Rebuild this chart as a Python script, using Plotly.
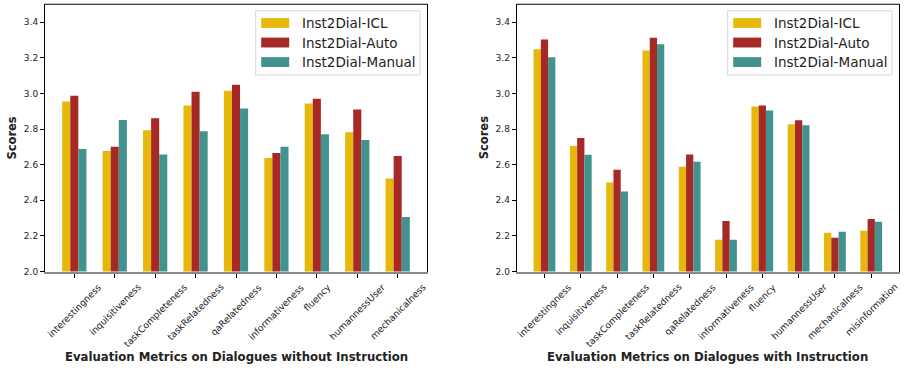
import plotly.graph_objects as go

# ---------------- data ----------------
series_names = ["Inst2Dial-ICL", "Inst2Dial-Auto", "Inst2Dial-Manual"]
series_colors = ["#E6B80B", "#A72926", "#42938F"]

cats_left = ["interestingness", "inquisitiveness", "taskCompleteness", "taskRelatedness",
             "qaRelatedness", "informativeness", "fluency", "humannessUser", "mechanicalness"]
icl_left = [2.954, 2.677, 2.793, 2.932, 3.015, 2.638, 2.943, 2.782, 2.522]
auto_left = [2.987, 2.700, 2.860, 3.009, 3.048, 2.666, 2.970, 2.909, 2.649]
manual_left = [2.688, 2.850, 2.657, 2.788, 2.915, 2.700, 2.771, 2.738, 2.306]

cats_right = ["interestingness", "inquisitiveness", "taskCompleteness", "taskRelatedness",
              "qaRelatedness", "informativeness", "fluency", "humannessUser", "mechanicalness",
              "misinformation"]
icl_right = [3.247, 2.705, 2.500, 3.241, 2.588, 2.179, 2.926, 2.826, 2.218, 2.229]
auto_right = [3.302, 2.749, 2.572, 3.312, 2.657, 2.284, 2.932, 2.849, 2.190, 2.295]
manual_right = [3.203, 2.655, 2.450, 3.275, 2.616, 2.179, 2.904, 2.821, 2.223, 2.279]

xtitle_left = "Evaluation Metrics on Dialogues without Instruction"
xtitle_right = "Evaluation Metrics on Dialogues with Instruction"
ytitle = "Scores"

# ---------------- layout helpers ----------------
W, H = 905, 372
FONT = "DejaVu Sans"
TXT = "#222222"


def px(x):
    return x / W


def py(y):
    return 1 - y / H


AX = [(45.0, 427.0), (516.7, 899.0)]
AY_TOP, AY_BOT = 4.3, 275.3

fig = go.Figure()

panels = [
    ("x", "y", cats_left, [icl_left, auto_left, manual_left], xtitle_left),
    ("x2", "y2", cats_right, [icl_right, auto_right, manual_right], xtitle_right),
]

for xa, ya, cats, vals, _ in panels:
    for name, color, v in zip(series_names, series_colors, vals):
        fig.add_trace(go.Bar(
            x=cats, y=v, name=name, xaxis=xa, yaxis=ya,
            marker=dict(color=color, line=dict(width=0)),
            showlegend=False,
        ))

axis_common_y = dict(
    range=[2.0, 3.5], tick0=2.0, dtick=0.2, tickformat=".1f",
    ticks="outside", ticklen=4, tickwidth=1, tickcolor="black",
    showline=True, linecolor="black", linewidth=1, mirror=True,
    showgrid=False, zeroline=False,
    tickfont=dict(family=FONT, size=9, color=TXT),
    domain=[py(AY_BOT), py(AY_TOP)],
)
axis_common_x = dict(
    type="category", showticklabels=False,
    ticks="outside", ticklen=4, tickwidth=1, tickcolor="black",
    showline=True, linecolor="#8a8a8a", linewidth=2,
    showgrid=False, zeroline=False,
)

fig.update_layout(
    width=W, height=H,
    margin=dict(l=0, r=0, t=0, b=0),
    paper_bgcolor="white", plot_bgcolor="white",
    barmode="group", bargap=0.4, bargroupgap=0.0,
    showlegend=False,
    font=dict(family=FONT, color=TXT),
    xaxis=dict(axis_common_x, domain=[px(AX[0][0]), px(AX[0][1])], anchor="y",
               range=[-0.725, len(cats_left) - 1 + 0.725]),
    yaxis=dict(axis_common_y, anchor="x"),
    xaxis2=dict(axis_common_x, domain=[px(AX[1][0]), px(AX[1][1])], anchor="y2",
                range=[-0.765, len(cats_right) - 1 + 0.765]),
    yaxis2=dict(axis_common_y, anchor="x2"),
)

shapes = []
annotations = []
for i, (xa, ya, cats, vals, xtitle) in enumerate(panels):
    x0, x1 = AX[i]
    # top frame line
    shapes.append(dict(type="line", xref="paper", yref="paper",
                       x0=px(x0), x1=px(x1), y0=py(AY_TOP), y1=py(AY_TOP),
                       line=dict(color="black", width=1)))
    # rotated category labels
    for c in cats:
        annotations.append(dict(
            x=c, xref=xa, y=py(282.5), yref="paper",
            text=c, textangle=-45, xanchor="center", yanchor="top",
            showarrow=False, font=dict(family=FONT, size=9.2, color=TXT),
        ))
    # x title
    annotations.append(dict(
        x=px((x0 + x1) / 2), y=py(362), xref="paper", yref="paper",
        text="<b>%s</b>" % xtitle, showarrow=False, xanchor="center", yanchor="middle",
        font=dict(family=FONT, size=11.7, color=TXT),
    ))
    # y title
    annotations.append(dict(
        x=px(x0 - 32.5), y=py(140), xref="paper", yref="paper",
        text="<b>%s</b>" % ytitle, textangle=-90, showarrow=False,
        xanchor="center", yanchor="middle",
        font=dict(family=FONT, size=11.5, color=TXT),
    ))
    # legend box
    lx1 = x1 - 7
    lx0 = lx1 - 164.3
    ly0, ly1 = 11.0, 76.0
    shapes.append(dict(type="rect", xref="paper", yref="paper",
                       x0=px(lx0), x1=px(lx1), y0=py(ly1), y1=py(ly0),
                       line=dict(color="#d6d6d6", width=1), fillcolor="rgba(255,255,255,0.8)"))
    for k, (name, color) in enumerate(zip(series_names, series_colors)):
        cy = ly0 + 12.3 + k * 19.8
        shapes.append(dict(type="rect", xref="paper", yref="paper",
                           x0=px(lx0 + 5.5), x1=px(lx0 + 33.5),
                           y0=py(cy + 5), y1=py(cy - 5),
                           line=dict(width=0), fillcolor=color))
        annotations.append(dict(
            x=px(lx0 + 44.5), y=py(cy), xref="paper", yref="paper",
            text=name, showarrow=False, xanchor="left", yanchor="middle",
            font=dict(family=FONT, size=13.5, color=TXT),
        ))

fig.update_layout(shapes=shapes, annotations=annotations)

# remove the browser's default 8px body margin so the figure fills the window exactly
fig.write_html("out.html",
               config={"displayModeBar": False},
               post_script="document.body.style.margin='0px';document.body.style.overflow='hidden';")
